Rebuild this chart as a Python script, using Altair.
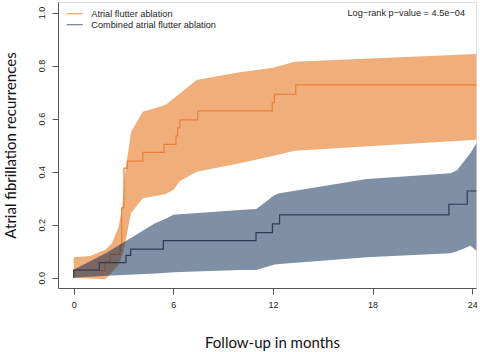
import altair as alt
import pandas as pd

# ---- data ----
series_names = ["Atrial flutter ablation", "Combined atrial flutter ablation"]

# Atrial flutter ablation: Kaplan-Meier step curve
af_t = [0, 0, 1.89, 2.19, 2.8, 2.89, 3.03, 3.23, 4.16, 5.44, 6.16, 6.26, 6.4, 7.47, 11.96, 12.09, 13.37, 24.25]
af_v = [0.0, 0.027, 0.06, 0.088, 0.123, 0.263, 0.413, 0.44, 0.473, 0.503, 0.535, 0.565, 0.595, 0.629, 0.66, 0.692, 0.727, 0.727]
# Atrial flutter ablation: confidence band
afb_t = [0, 1.0, 1.9, 2.3, 2.7, 2.95, 3.05, 3.45, 4.16, 5.5, 6.0, 6.4, 7.4, 10.0, 12.0, 13.3, 24.25]
afb_lo = [0.0, -0.003, -0.006, 0.02, 0.048, 0.09, 0.115, 0.243, 0.30, 0.315, 0.331, 0.365, 0.40, 0.432, 0.459, 0.479, 0.52]
afb_hi = [0.077, 0.082, 0.105, 0.13, 0.19, 0.28, 0.37, 0.55, 0.626, 0.65, 0.675, 0.695, 0.746, 0.775, 0.792, 0.815, 0.844]

# Combined atrial flutter ablation: step curve
cb_t = [0, 0, 1.54, 3.15, 3.43, 5.4, 10.98, 11.97, 12.4, 22.6, 23.7, 24.25]
cb_v = [0.0, 0.029, 0.057, 0.084, 0.108, 0.14, 0.17, 0.203, 0.237, 0.277, 0.327, 0.327]
# Combined: confidence band
cbb_t = [0, 2.0, 4.9, 5.6, 6.0, 10.0, 11.0, 12.1, 12.4, 17.65, 22.7, 23.1, 23.9, 24.25]
cbb_hi = [0.03, 0.095, 0.205, 0.224, 0.237, 0.255, 0.259, 0.312, 0.318, 0.372, 0.394, 0.406, 0.47, 0.507]
cbb_lo = [0.0, 0.007, 0.016, 0.019, 0.02, 0.029, 0.029, 0.05, 0.052, 0.077, 0.092, 0.1, 0.12, 0.102]

x_ticks = [0, 6, 12, 18, 24]
y_ticks = [0.0, 0.2, 0.4, 0.6, 0.8, 1.0]
pvalue_text = "Log\u2212rank p\u2212value = 4.5e\u221204"

# ---- styling ----
ORANGE_BAND = "#F0AE7A"
ORANGE_LINE = "#E8803A"
BLUE_BAND = "#001F4B"
BLUE_LINE = "#2B3A55"
LABEL_FONT = "Liberation Sans"
TITLE_FONT = "Lato"

xs = alt.Scale(domain=[-0.946, 24.23], nice=False, zero=False)
ys = alt.Scale(domain=[-0.039, 1.040], nice=False, zero=False)

x_axis = alt.Axis(values=x_ticks, title="Follow-up in months", grid=False,
                  labelFont=LABEL_FONT, labelFontSize=9, labelColor="#222",
                  tickSize=6, labelPadding=6, tickColor="#555", domainColor="#555",
                  titleFont=TITLE_FONT, titleFontSize=15, titleFontWeight="normal",
                  titleColor="#111", titleX=214, titleY=59, titleAlign="center",
                  titleBaseline="alphabetic")
y_axis = alt.Axis(values=y_ticks, format=".1f", title="Atrial fibrillation recurrences",
                  grid=False, labelFont=LABEL_FONT, labelFontSize=9, labelColor="#222",
                  labelAngle=270, labelAlign="center", labelBaseline="alphabetic",
                  tickSize=6, labelPadding=8, tickColor="#555", domainColor="#555",
                  titleFont=TITLE_FONT, titleFontSize=15, titleFontWeight="normal",
                  titleColor="#111", titleAngle=270, titleX=-43, titleY=143,
                  titleAlign="center", titleBaseline="alphabetic")

af_line_df = pd.DataFrame({"t": af_t, "v": af_v})
af_band_df = pd.DataFrame({"t": afb_t, "lo": afb_lo, "hi": afb_hi})
cb_line_df = pd.DataFrame({"t": cb_t, "v": cb_v})
cb_band_df = pd.DataFrame({"t": cbb_t, "lo": cbb_lo, "hi": cbb_hi})

af_band = alt.Chart(af_band_df).mark_area(color=ORANGE_BAND, opacity=1).encode(
    x=alt.X("t:Q", scale=xs, axis=x_axis),
    y=alt.Y("lo:Q", scale=ys, axis=y_axis),
    y2="hi:Q")
af_line = alt.Chart(af_line_df).mark_line(color=ORANGE_LINE, strokeWidth=1.2,
                                          interpolate="step-after").encode(
    x=alt.X("t:Q", scale=xs), y=alt.Y("v:Q", scale=ys))
cb_band = alt.Chart(cb_band_df).mark_area(color=BLUE_BAND, opacity=0.5).encode(
    x=alt.X("t:Q", scale=xs), y=alt.Y("lo:Q", scale=ys), y2="hi:Q")
cb_line = alt.Chart(cb_line_df).mark_line(color=BLUE_LINE, strokeWidth=1.2,
                                          interpolate="step-after").encode(
    x=alt.X("t:Q", scale=xs), y=alt.Y("v:Q", scale=ys))

leg_df = pd.DataFrame({"name": series_names})
leg_line1 = alt.Chart(leg_df.iloc[[0]]).mark_rule(color="#F0A060", strokeWidth=1.2).encode(
    x=alt.value(8.7), x2=alt.value(24.7), y=alt.value(11.7))
leg_line2 = alt.Chart(leg_df.iloc[[1]]).mark_rule(color="#6B7E9A", strokeWidth=1.2).encode(
    x=alt.value(8.7), x2=alt.value(24.7), y=alt.value(22.7))
leg_text1 = alt.Chart(leg_df.iloc[[0]]).mark_text(
    align="left", baseline="middle", font=LABEL_FONT, fontSize=9.2, color="#222").encode(
    x=alt.value(33.3), y=alt.value(11.9), text="name:N")
leg_text2 = alt.Chart(leg_df.iloc[[1]]).mark_text(
    align="left", baseline="middle", font=LABEL_FONT, fontSize=9.2, color="#222").encode(
    x=alt.value(33.3), y=alt.value(22.9), text="name:N")
p_text = alt.Chart(pd.DataFrame({"p": [pvalue_text]})).mark_text(
    align="right", baseline="middle", font=LABEL_FONT, fontSize=9.2, color="#222").encode(
    x=alt.value(407), y=alt.value(10.5), text="p:N")

chart = alt.layer(af_band, af_line, cb_band, cb_line,
                  leg_line1, leg_line2, leg_text1, leg_text2, p_text).properties(
    width=418, height=286,
    padding={"left": 58, "top": 2, "right": 4, "bottom": 64},
    autosize=alt.AutoSizeParams(type="none"),
).configure_view(stroke=None).configure(background="white")

chart.save("out.html", embed_options={"renderer": "svg", "actions": False})
